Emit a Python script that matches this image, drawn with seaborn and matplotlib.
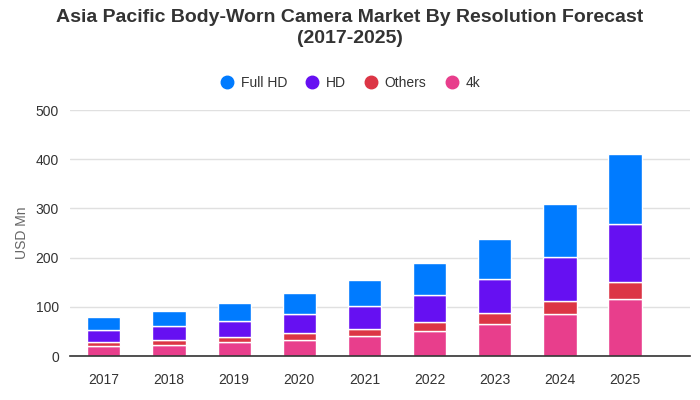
import pandas as pd
import matplotlib.pyplot as plt
import seaborn as sns
from matplotlib.lines import Line2D

years = ["2017", "2018", "2019", "2020", "2021", "2022", "2023", "2024", "2025"]
k4 = [20, 22, 28, 32, 40, 50, 65, 85, 116]
others = [8, 10, 10, 14, 14.5, 19, 22, 26.5, 34.5]
hd = [24, 28.5, 33, 39, 47, 55, 69, 89.5, 118]
full_hd = [27, 31, 36.5, 43, 53, 65, 81, 108, 143]

series = ["Full HD", "HD", "Others", "4k"]
colors = {"Full HD": "#007bff", "HD": "#6610f2", "Others": "#dc3545", "4k": "#e83e8c"}

df = pd.DataFrame({"year": years, "4k": k4, "Others": others, "HD": hd, "Full HD": full_hd})

sns.set_style("white")
plt.rcParams["font.family"] = ["Liberation Sans", "DejaVu Sans"]

fig = plt.figure(figsize=(7, 4), dpi=100)
ax = fig.add_axes([0.1, 0.11, 0.886, 0.615])

# stack from bottom: 4k, Others, HD, Full HD
bottom = [0] * len(years)
for name in ["4k", "Others", "HD", "Full HD"]:
    sns.barplot(data=df, x="year", y=name, color=colors[name], bottom=bottom,
                width=0.51, edgecolor="white", linewidth=1, ax=ax, saturation=1)
    bottom = [b + v for b, v in zip(bottom, df[name])]

ax.set_ylim(0, 500)
ax.set_yticks(range(0, 501, 100))
ax.yaxis.grid(True, color="#e0e0e0", linewidth=1)
ax.set_axisbelow(True)
for s in ["top", "right", "left"]:
    ax.spines[s].set_visible(False)
ax.spines["bottom"].set_color("#333333")
ax.spines["bottom"].set_linewidth(1.2)
ax.tick_params(axis="both", length=0, labelsize=10, colors="#333333", pad=8)
ax.tick_params(axis="x", pad=12)
ax.set_xlabel("")
ax.set_ylabel("USD Mn", fontsize=10, color="#666666", labelpad=5)
ax.set_xlim(-0.52, 9.0)

fig.text(0.5, 0.978, "Asia Pacific Body-Worn Camera Market By Resolution Forecast\n(2017-2025)",
         ha="center", va="top", fontsize=14, fontweight="bold", color="#333333",
         linespacing=1.3)

handles = [Line2D([], [], marker="o", linestyle="", markersize=9,
                  markerfacecolor=colors[n], markeredgecolor=colors[n]) for n in series]
fig.legend(handles, series, loc="center", bbox_to_anchor=(0.5, 0.792), ncol=4,
           frameon=False, fontsize=10, handlelength=1.0, handletextpad=0.5,
           columnspacing=1.3, labelcolor="#333333")

fig.savefig("out.png", dpi=100)
